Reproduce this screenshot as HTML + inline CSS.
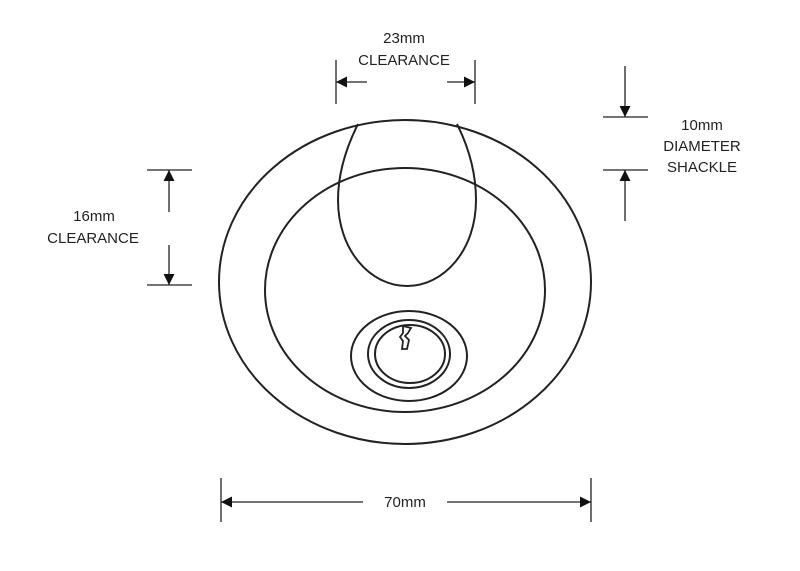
<!DOCTYPE html>
<html><head><style>html,body{margin:0;padding:0;background:#fff}svg{display:block}text{font-family:"Liberation Sans",sans-serif;font-size:15px;fill:#222}</style></head>
<body>
<svg width="800" height="571" viewBox="0 0 800 571">
<defs>
<marker id="a" viewBox="0 0 10 10" refX="10" refY="5" markerWidth="11" markerHeight="11" markerUnits="userSpaceOnUse" orient="auto"><path d="M0,0L10,5L0,10z" fill="#111"/></marker>
</defs>
<g fill="none" stroke="#222" stroke-width="2">
<ellipse cx="405" cy="282" rx="186" ry="162"/>
<ellipse cx="405" cy="290" rx="140" ry="122"/>
<path d="M358,124 C345,150 338,175 338,200 C338,250 370,286 407,286 C444,286 476,250 476,200 C476,175 470,150 457,124"/>
<ellipse cx="409" cy="356" rx="58" ry="45"/>
<ellipse cx="409" cy="354" rx="41" ry="34"/>
<ellipse cx="410" cy="354" rx="35" ry="29"/>
<path d="M403,326 L411,328 L408,333 L405,336 L409,340 L407,349 L402,349 L403,341 L400,337 L403,333 Z" stroke-width="1.8"/>
</g>
<g stroke="#222" stroke-width="1.3" fill="none">
<line x1="336" y1="60" x2="336" y2="104"/><line x1="475" y1="60" x2="475" y2="104"/>
<line x1="367" y1="82" x2="336" y2="82" marker-end="url(#a)"/>
<line x1="447" y1="82" x2="475" y2="82" marker-end="url(#a)"/>
<line x1="147" y1="170" x2="192" y2="170"/><line x1="147" y1="285" x2="192" y2="285"/>
<line x1="169" y1="212" x2="169" y2="170" marker-end="url(#a)"/>
<line x1="169" y1="245" x2="169" y2="285" marker-end="url(#a)"/>
<line x1="603" y1="117" x2="648" y2="117"/><line x1="603" y1="170" x2="648" y2="170"/>
<line x1="625" y1="66" x2="625" y2="117" marker-end="url(#a)"/>
<line x1="625" y1="221" x2="625" y2="170" marker-end="url(#a)"/>
<line x1="221" y1="478" x2="221" y2="522"/><line x1="591" y1="478" x2="591" y2="522"/>
<line x1="363" y1="502" x2="221" y2="502" marker-end="url(#a)"/>
<line x1="447" y1="502" x2="591" y2="502" marker-end="url(#a)"/>
</g>
<g text-anchor="middle">
<text x="404" y="43">23mm</text><text x="404" y="65">CLEARANCE</text>
<text x="94" y="221">16mm</text><text x="93" y="243">CLEARANCE</text>
<text x="702" y="130">10mm</text><text x="702" y="151">DIAMETER</text><text x="702" y="172">SHACKLE</text>
<text x="405" y="507">70mm</text>
</g>
</svg>
</body></html>
